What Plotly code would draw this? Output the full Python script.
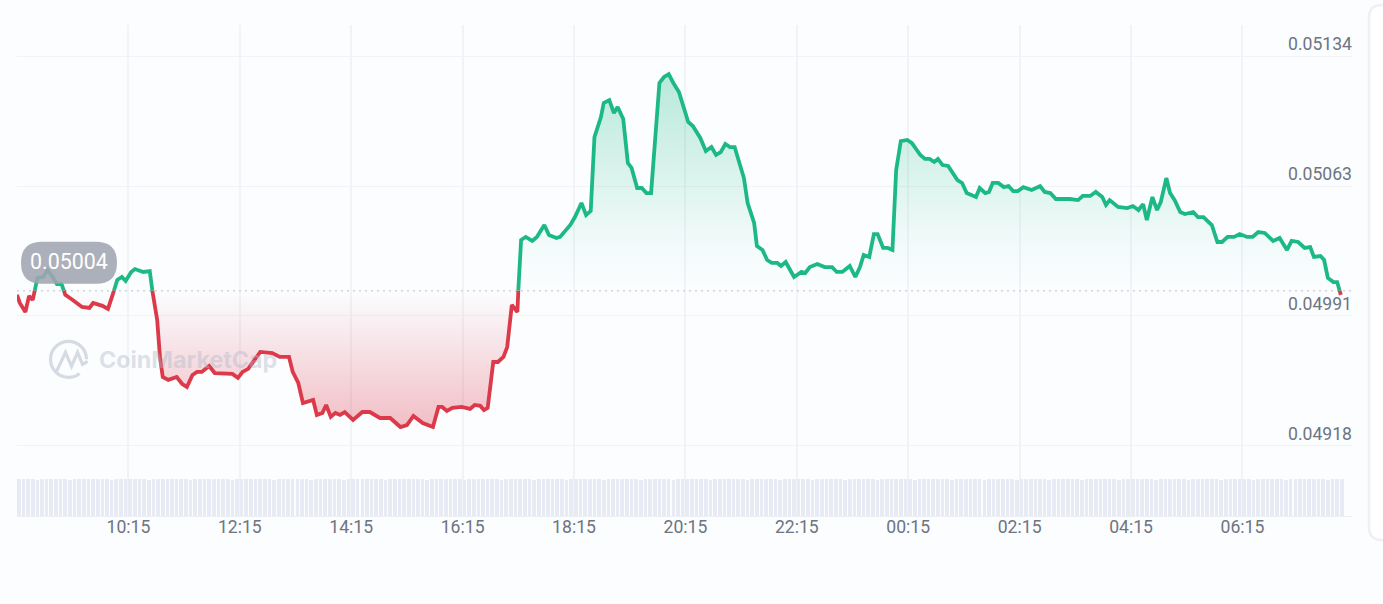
import plotly.graph_objects as go

# minutes since 08:15
minutes = [
    0, 3, 9, 13, 17, 22, 28, 33, 39, 43, 48, 52, 60, 70, 78, 82, 92, 98, 103, 108,
    113, 117, 123, 127, 136, 143, 146, 151, 154, 157, 163, 172, 178, 183, 189, 194, 199, 207, 213, 222,
    232, 238, 243, 249, 254, 262, 275, 283, 293, 297, 303, 308, 319, 323, 329, 333, 338, 343, 348, 353,
    362, 372, 380, 391, 402, 413, 420, 427, 437, 448, 454, 458, 463, 469, 479, 488, 493, 499, 503, 507,
    513, 518, 524, 528, 533, 539, 540, 543, 548, 555, 560, 568, 573, 581, 585, 590, 596, 601, 608, 613,
    618, 622, 629, 632, 638, 643, 647, 653, 658, 662, 668, 673, 678, 683, 692, 697, 702, 707, 713, 723,
    728, 736, 742, 748, 753, 758, 763, 768, 773, 783, 787, 794, 797, 803, 808, 813, 819, 823, 828, 837,
    845, 849, 854, 862, 870, 878, 883, 889, 897, 903, 908, 912, 918, 923, 927, 933, 938, 943, 947, 952,
    959, 964, 973, 978, 983, 988, 992, 997, 1003, 1013, 1018, 1023, 1033, 1037, 1043, 1047, 1051, 1057, 1063, 1068,
    1073, 1078, 1084, 1093, 1102, 1107, 1113, 1119, 1134, 1143, 1148, 1156, 1162, 1169, 1173, 1177, 1186, 1196, 1202, 1208,
    1213, 1217, 1223, 1228, 1232, 1238, 1242, 1247, 1253, 1258, 1267, 1272, 1278, 1287, 1293, 1298, 1304, 1311, 1317, 1325,
    1331, 1337, 1344, 1353, 1360, 1368, 1373, 1380, 1387, 1393, 1397, 1404, 1408, 1412, 1418, 1422, 1426,
]
prices = [
    0.050017, 0.049972, 0.049922, 0.050011, 0.049989, 0.050111, 0.050116, 0.050155, 0.050111, 0.050077,
    0.050077, 0.050017, 0.049989, 0.049950, 0.049945, 0.049972, 0.049956, 0.049939, 0.050017, 0.050100,
    0.050116, 0.050094, 0.050144, 0.050160, 0.050144, 0.050149, 0.050033, 0.049878, 0.049673, 0.049562,
    0.049546, 0.049562, 0.049523, 0.049507, 0.049573, 0.049590, 0.049590, 0.049623, 0.049584, 0.049584,
    0.049579, 0.049557, 0.049590, 0.049607, 0.049645, 0.049701, 0.049695, 0.049673, 0.049673, 0.049590,
    0.049529, 0.049418, 0.049435, 0.049352, 0.049363, 0.049407, 0.049341, 0.049363, 0.049352, 0.049368,
    0.049324, 0.049368, 0.049368, 0.049335, 0.049335, 0.049285, 0.049296, 0.049346, 0.049307, 0.049285,
    0.049396, 0.049396, 0.049374, 0.049391, 0.049396, 0.049385, 0.049407, 0.049402, 0.049379, 0.049391,
    0.049645, 0.049645, 0.049673, 0.049728, 0.049961, 0.049922, 0.050044, 0.050321, 0.050338, 0.050316,
    0.050338, 0.050404, 0.050349, 0.050332, 0.050338, 0.050365, 0.050404, 0.050448, 0.050526, 0.050459,
    0.050482, 0.050891, 0.051002, 0.051080, 0.051096, 0.051024, 0.051058, 0.050991, 0.050747, 0.050720,
    0.050609, 0.050609, 0.050581, 0.050581, 0.051191, 0.051224, 0.051240, 0.051191, 0.051141, 0.050975,
    0.050952, 0.050886, 0.050814, 0.050836, 0.050792, 0.050808, 0.050853, 0.050836, 0.050836, 0.050664,
    0.050526, 0.050415, 0.050288, 0.050266, 0.050210, 0.050194, 0.050194, 0.050177, 0.050199, 0.050116,
    0.050144, 0.050138, 0.050171, 0.050188, 0.050171, 0.050171, 0.050144, 0.050144, 0.050177, 0.050116,
    0.050171, 0.050238, 0.050227, 0.050354, 0.050354, 0.050277, 0.050277, 0.050266, 0.050709, 0.050869,
    0.050875, 0.050858, 0.050792, 0.050770, 0.050770, 0.050753, 0.050770, 0.050736, 0.050731, 0.050653,
    0.050637, 0.050581, 0.050559, 0.050609, 0.050581, 0.050587, 0.050637, 0.050637, 0.050614, 0.050620,
    0.050592, 0.050592, 0.050614, 0.050598, 0.050620, 0.050587, 0.050581, 0.050548, 0.050548, 0.050542,
    0.050565, 0.050565, 0.050587, 0.050559, 0.050515, 0.050542, 0.050504, 0.050498, 0.050509, 0.050487,
    0.050520, 0.050432, 0.050559, 0.050487, 0.050531, 0.050664, 0.050581, 0.050542, 0.050476, 0.050465,
    0.050476, 0.050448, 0.050448, 0.050404, 0.050310, 0.050310, 0.050338, 0.050338, 0.050354, 0.050338,
    0.050338, 0.050365, 0.050360, 0.050316, 0.050332, 0.050266, 0.050316, 0.050310, 0.050277, 0.050282,
    0.050227, 0.050232, 0.050210, 0.050111, 0.050088, 0.050088, 0.050017,
]
base_price = 0.05004

# volume strip, one bar per 5 min. Nearly flat in the picture
volume = [
    99, 100, 99, 100, 98, 100, 99, 100, 100, 99, 100, 98, 100, 99, 100, 100, 99, 100, 99, 100, 98, 100,
    100, 99, 100, 99, 100, 100, 98, 100, 99, 100, 99, 100, 100, 99, 100, 98, 100, 99, 100, 100, 99, 100,
    99, 100, 98, 100, 99, 100, 100, 99, 100, 99, 100, 98, 100, 100, 99, 100, 99, 100, 100, 98, 100, 99,
    100, 99, 100, 100, 98, 100, 99, 100, 100, 99, 100, 99, 100, 98, 100, 100, 99, 100, 99, 100, 100, 99,
    98, 100, 99, 100, 100, 99, 100, 99, 98, 100, 100, 99, 100, 99, 100, 100, 98, 100, 99, 100, 99, 100,
    100, 98, 100, 99, 100, 100, 99, 100, 98, 100, 99, 100, 99, 100, 100, 99, 98, 100, 100, 99, 100, 99,
    100, 100, 98, 100, 99, 100, 100, 99, 100, 98, 100, 99, 100, 99, 100, 100, 99, 98, 100, 100, 99, 100,
    99, 100, 100, 98, 100, 99, 100, 99, 100, 100, 98, 100, 99, 100, 100, 99, 100, 98, 100, 99, 100, 100,
    99, 100, 98, 100, 99, 100, 100, 99, 100, 98, 100, 99, 100, 100, 99, 100, 99, 98, 100, 100, 99, 100,
    99, 100, 100, 98, 100, 99, 100, 99, 100, 100, 98, 100, 99, 100, 100, 99, 100, 98, 100, 99, 100, 100,
    99, 100, 98, 100, 99, 100, 100, 99, 100, 98, 100, 99, 100, 100, 99, 100, 99, 98, 100, 100, 99, 100,
    99, 100, 100, 98, 100, 99, 100, 99, 100, 100, 98, 100, 99, 100, 100, 99, 100, 98, 100, 99, 100, 100,
    99, 100, 98, 100, 99, 100, 100, 99, 100, 98, 100, 99, 100, 100, 99, 100, 100, 99, 98, 100, 99, 100,
]

tick_minutes = [120, 240, 360, 480, 600, 720, 840, 960, 1080, 1200, 1320]
tick_labels = ["10:15", "12:15", "14:15", "16:15", "18:15", "20:15", "22:15", "00:15", "02:15", "04:15", "06:15"]
# the site rounds its labels, the grid itself is evenly spaced
price_ticks = [0.05134, 0.05062, 0.04990, 0.04918]
price_labels = ["0.05134", "0.05063", "0.04991", "0.04918"]

GREEN = "#1db985"
RED = "#dc3a4a"
TEXT = "#6e7480"
GRID = "#f0f3f7"
BG = "#fbfdff"
FONT = "Roboto"


def split_at_base(xs, ys, base):
    # add a point wherever the line crosses the base price
    out_x, out_y = [xs[0]], [ys[0]]
    for i in range(1, len(xs)):
        if (ys[i - 1] - base) * (ys[i] - base) < 0:
            t = (base - ys[i - 1]) / (ys[i] - ys[i - 1])
            out_x.append(xs[i - 1] + t * (xs[i] - xs[i - 1]))
            out_y.append(base)
        out_x.append(xs[i])
        out_y.append(ys[i])
    return out_x, out_y


line_x, line_y = split_at_base(minutes, prices, base_price)
up_fill = [max(p, base_price) for p in line_y]
down_fill = [min(p, base_price) for p in line_y]
up_line = [p if p >= base_price else None for p in line_y]
down_line = [p if p <= base_price else None for p in line_y]
base_line = [base_price for p in line_y]

fig = go.Figure()

fig.add_trace(go.Bar(x=[i * 5 for i in range(len(volume))], y=volume, yaxis="y2", width=3.9, offset=0,
                     marker=dict(color="#e8ebf4", line=dict(width=0)), hoverinfo="skip"))

# green area
fig.add_trace(go.Scatter(x=line_x, y=base_line, mode="lines", line=dict(width=0), hoverinfo="skip"))
fig.add_trace(go.Scatter(x=line_x, y=up_fill, mode="lines", line=dict(width=0), fill="tonexty",
                         fillgradient=dict(type="vertical", start=base_price, stop=max(prices),
                                           colorscale=[[0, "rgba(29,185,133,0)"], [0.2, "rgba(29,185,133,0.035)"],
                                                       [1, "rgba(29,185,133,0.3)"]]),
                         hoverinfo="skip"))
# red area
fig.add_trace(go.Scatter(x=line_x, y=base_line, mode="lines", line=dict(width=0), hoverinfo="skip"))
fig.add_trace(go.Scatter(x=line_x, y=down_fill, mode="lines", line=dict(width=0), fill="tonexty",
                         fillgradient=dict(type="vertical", start=min(prices), stop=base_price,
                                           colorscale=[[0, "rgba(220,58,74,0.32)"], [1, "rgba(220,58,74,0)"]]),
                         hoverinfo="skip"))

# dotted base line
fig.add_trace(go.Scatter(x=[0, 1438], y=[base_price, base_price], mode="lines",
                         line=dict(color="#cfd3da", width=1.5, dash="2px,4px"), hoverinfo="skip"))

fig.add_trace(go.Scatter(x=line_x, y=up_line, mode="lines", line=dict(color=GREEN, width=3.8), connectgaps=False))
fig.add_trace(go.Scatter(x=line_x, y=down_line, mode="lines", line=dict(color=RED, width=3.8), connectgaps=False))

annotations = []
for p, label in zip(price_ticks, price_labels):
    annotations.append(dict(xref="paper", x=1, yref="y", y=p, xanchor="right", yanchor="bottom", yshift=0,
                            showarrow=False, text=label, xshift=2,
                            font=dict(family=FONT, size=17.6, color=TEXT)))
annotations.append(dict(xref="x", x=56, yref="y", y=base_price, yshift=29, showarrow=False,
                        text=f"{base_price:.5f}", font=dict(family=FONT, size=21.4, color="white")))
annotations.append(dict(xref="x", x=86, yref="y", y=0.04966, xanchor="left", showarrow=False,
                        text="<b>CoinMarketCap</b>", font=dict(family="Inter", size=23.3, color="rgba(176,184,200,0.42)")))

shapes = [
    # card edge on the right
    dict(type="path", layer="below", xref="paper", yref="paper", xsizemode="pixel", ysizemode="pixel",
         xanchor=1, yanchor=0, path="M 45,511 L 30,511 Q 17,511 17,498 L 17,-11 Q 17,-24 30,-24 L 45,-24",
         fillcolor="#ffffff", line=dict(color="#eef0f5", width=2.5)),
    # price pill
    dict(type="path", layer="above", xref="x", yref="y", xsizemode="pixel", ysizemode="pixel",
         xanchor=0, yanchor=base_price,
         path="M 25,7 L 79,7 Q 100,7 100,28 Q 100,49 79,49 L 25,49 Q 4,49 4,28 Q 4,7 25,7 Z",
         fillcolor="rgba(160,165,178,0.88)", line=dict(width=0)),
    # watermark logo
    dict(type="path", layer="above", xref="x", yref="y", xsizemode="pixel", ysizemode="pixel",
         xanchor=55.5, yanchor=0.04966,
         path="M 18,0 C 18,10 10,18 0,18 C -10,18 -18,10 -18,0 C -18,-10 -10,-18 0,-18 C 4,-18 8,-17 11,-14",
         line=dict(color="#d6dae3", width=3.2)),
    dict(type="path", layer="above", xref="x", yref="y", xsizemode="pixel", ysizemode="pixel",
         xanchor=55.5, yanchor=0.04966,
         path="M -12,-12 L -3,7 L 3,-7 L 9,7 L 14,-5 L 19,-2",
         line=dict(color="#d6dae3", width=3.2)),
]

fig.update_layout(
    width=1383,
    height=604,
    margin=dict(l=17, r=31, t=25, b=88),
    paper_bgcolor=BG,
    plot_bgcolor=BG,
    showlegend=False,
    bargap=0,
    xaxis=dict(range=[0, 1438], tickmode="array", tickvals=tick_minutes, ticktext=tick_labels,
               showgrid=True, gridcolor=GRID, gridwidth=2, zeroline=False, showline=True,
               linecolor="#eceff4", linewidth=1, ticks="", ticklabelstandoff=-5,
               tickfont=dict(family=FONT, size=17.6, color=TEXT)),
    yaxis=dict(range=[0.048792, 0.051512], tickmode="array", tickvals=price_ticks, showticklabels=False,
               showgrid=True, gridcolor=GRID, gridwidth=1, zeroline=False, showline=False, ticks=""),
    yaxis2=dict(domain=[0, 0.0754], range=[0, 100], visible=False, anchor="x"),
    annotations=annotations,
    shapes=shapes,
)

fig.write_html("out.html", config={"displayModeBar": False},
               post_script="document.body.style.margin='0';document.body.style.background='#fbfdff';")
